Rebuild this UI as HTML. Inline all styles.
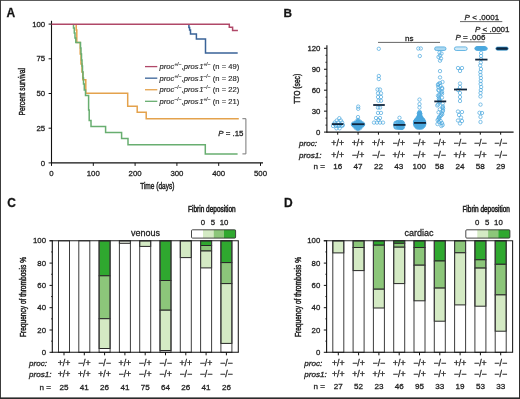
<!DOCTYPE html>
<html><head><meta charset="utf-8"><style>
html,body{margin:0;padding:0;background:#fff;width:520px;height:399px;overflow:hidden;}
svg{display:block;filter:blur(0.35px);font-family:"Liberation Sans",sans-serif;}
text{stroke:#222;stroke-width:0.28px;}
</style></head><body><svg width="520" height="399" viewBox="0 0 520 399" font-family="Liberation Sans, sans-serif"><rect x="0" y="0" width="520" height="1" fill="#5c5c5c"/>
<rect x="0" y="0" width="1" height="399" fill="#3c3c3c"/>
<rect x="519" y="0" width="1" height="399" fill="#2e2e2e"/>
<rect x="0" y="397.4" width="520" height="1.6" fill="#2a2a2a"/>
<text x="6.5" y="16.9" font-size="12" text-anchor="start" fill="#111" font-weight="bold" style="">A</text>
<line x1="51.5" y1="20.8" x2="51.5" y2="163.4" stroke="#111" stroke-width="1.1"/>
<line x1="51.0" y1="162.9" x2="263" y2="162.9" stroke="#111" stroke-width="1.1"/>
<line x1="48.6" y1="162.9" x2="51.5" y2="162.9" stroke="#111" stroke-width="1"/>
<text x="45.2" y="165.5" font-size="7.8" text-anchor="end" fill="#222"  style="">0</text>
<line x1="48.6" y1="128.20000000000002" x2="51.5" y2="128.20000000000002" stroke="#111" stroke-width="1"/>
<text x="45.2" y="130.8" font-size="7.8" text-anchor="end" fill="#222"  style="">25</text>
<line x1="48.6" y1="93.50000000000001" x2="51.5" y2="93.50000000000001" stroke="#111" stroke-width="1"/>
<text x="45.2" y="96.10000000000001" font-size="7.8" text-anchor="end" fill="#222"  style="">50</text>
<line x1="48.6" y1="58.80000000000001" x2="51.5" y2="58.80000000000001" stroke="#111" stroke-width="1"/>
<text x="45.2" y="61.40000000000001" font-size="7.8" text-anchor="end" fill="#222"  style="">75</text>
<line x1="48.6" y1="24.100000000000023" x2="51.5" y2="24.100000000000023" stroke="#111" stroke-width="1"/>
<text x="45.2" y="26.700000000000024" font-size="7.8" text-anchor="end" fill="#222"  style="">100</text>
<line x1="51.5" y1="162.9" x2="51.5" y2="165.9" stroke="#111" stroke-width="1"/>
<text x="51.5" y="175.8" font-size="7.8" text-anchor="middle" fill="#222"  style="">0</text>
<line x1="93.3" y1="162.9" x2="93.3" y2="165.9" stroke="#111" stroke-width="1"/>
<text x="93.3" y="175.8" font-size="7.8" text-anchor="middle" fill="#222"  style="">100</text>
<line x1="135.1" y1="162.9" x2="135.1" y2="165.9" stroke="#111" stroke-width="1"/>
<text x="135.1" y="175.8" font-size="7.8" text-anchor="middle" fill="#222"  style="">200</text>
<line x1="176.89999999999998" y1="162.9" x2="176.89999999999998" y2="165.9" stroke="#111" stroke-width="1"/>
<text x="176.89999999999998" y="175.8" font-size="7.8" text-anchor="middle" fill="#222"  style="">300</text>
<line x1="218.7" y1="162.9" x2="218.7" y2="165.9" stroke="#111" stroke-width="1"/>
<text x="218.7" y="175.8" font-size="7.8" text-anchor="middle" fill="#222"  style="">400</text>
<line x1="260.5" y1="162.9" x2="260.5" y2="165.9" stroke="#111" stroke-width="1"/>
<text x="260.5" y="175.8" font-size="7.8" text-anchor="middle" fill="#222"  style="">500</text>
<text x="157.3" y="188.5" font-size="9.2" text-anchor="middle" fill="#1a1a1a" textLength="34.3" lengthAdjust="spacingAndGlyphs"  style="stroke-width:0.45px">Time (days)</text>
<text x="0" y="0" font-size="9.4" text-anchor="middle" fill="#222" textLength="47.5" lengthAdjust="spacingAndGlyphs" style="stroke-width:0.45px" transform="translate(25.2,91.8) rotate(-90)">Percent survival</text>
<path d="M188.9,24.3 V27.5 H189.6 V30 H190.5 V34 H196.4 V39.1 H205.5 V53.1 H237.7" fill="none" stroke="#3a6398" stroke-width="1.5" stroke-linejoin="miter"/>
<path d="M76.2,24.3 V30 H76.8 V42.6 H80.2 V54 H81 V64 H82 V72 H82.8 V79.8 H85.8 V93.2 H127.7 V106.3 H137.2 V112.2 H146.2 V118.7 H238.8" fill="none" stroke="#e4a24c" stroke-width="1.5" stroke-linejoin="miter"/>
<path d="M73.5,24.3 V28 H74.3 V33 H75 V38 H75.8 V42.6 H80.5 V48 H81 V54 H81.5 V60 H82 V66 H82.5 V72 H83 V78 H83.5 V84 H84.3 V90 H85.5 V95.6 H88.6 V110 H89.2 V120.6 H91 V126.4 H105.6 V132.6 H121.6 V138.4 H128 V144.8 H205.3 V153.9 H237.6" fill="none" stroke="#68ae70" stroke-width="1.5" stroke-linejoin="miter"/>
<path d="M51.5,24.3 H229.3 V27.2 H232.6 V30.4 H237.9" fill="none" stroke="#b04868" stroke-width="1.5" stroke-linejoin="miter"/>
<line x1="145" y1="66.6" x2="157.3" y2="66.6" stroke="#b04868" stroke-width="1.3"/>
<text x="159.6" y="69.3" font-size="7.6" fill="#2a2a2a" style="stroke-width:0.15px"><tspan font-style="italic">proc</tspan><tspan font-size="5.0" dy="-3.3">+/−</tspan><tspan dy="3.3">,</tspan><tspan font-style="italic">pros</tspan><tspan font-style="italic" dx="0.7">1</tspan><tspan font-size="5.0" dy="-3.3">+/−</tspan><tspan dy="3.3"> (n = 49)</tspan></text>
<line x1="145" y1="78.16999999999999" x2="157.3" y2="78.16999999999999" stroke="#3a6398" stroke-width="1.3"/>
<text x="159.6" y="80.86999999999999" font-size="7.6" fill="#2a2a2a" style="stroke-width:0.15px"><tspan font-style="italic">proc</tspan><tspan font-size="5.0" dy="-3.3">+/−</tspan><tspan dy="3.3">,</tspan><tspan font-style="italic">pros</tspan><tspan font-style="italic" dx="0.7">1</tspan><tspan font-size="5.0" dy="-3.3">−/−</tspan><tspan dy="3.3"> (n = 28)</tspan></text>
<line x1="145" y1="89.74" x2="157.3" y2="89.74" stroke="#e4a24c" stroke-width="1.3"/>
<text x="159.6" y="92.44" font-size="7.6" fill="#2a2a2a" style="stroke-width:0.15px"><tspan font-style="italic">proc</tspan><tspan font-size="5.0" dy="-3.3">−/−</tspan><tspan dy="3.3">,</tspan><tspan font-style="italic">pros</tspan><tspan font-style="italic" dx="0.7">1</tspan><tspan font-size="5.0" dy="-3.3">−/−</tspan><tspan dy="3.3"> (n = 22)</tspan></text>
<line x1="145" y1="101.31" x2="157.3" y2="101.31" stroke="#68ae70" stroke-width="1.3"/>
<text x="159.6" y="104.01" font-size="7.6" fill="#2a2a2a" style="stroke-width:0.15px"><tspan font-style="italic">proc</tspan><tspan font-size="5.0" dy="-3.3">−/−</tspan><tspan dy="3.3">,</tspan><tspan font-style="italic">pros</tspan><tspan font-style="italic" dx="0.7">1</tspan><tspan font-size="5.0" dy="-3.3">+/−</tspan><tspan dy="3.3"> (n = 21)</tspan></text>
<path d="M242.4,118.7 H245.9 V153.9 H242.4" fill="none" stroke="#777" stroke-width="1"/>
<text x="218.2" y="136.2" font-size="7.9" fill="#222"><tspan font-style="italic">P</tspan> = .15</text>
<text x="283.4" y="17" font-size="11.8" text-anchor="start" fill="#111" font-weight="bold" style="">B</text>
<line x1="326.9" y1="45.3" x2="326.9" y2="132.6" stroke="#111" stroke-width="1.1"/>
<line x1="326.4" y1="132.1" x2="513.6" y2="132.1" stroke="#111" stroke-width="1.1"/>
<line x1="324" y1="132.1" x2="326.9" y2="132.1" stroke="#111" stroke-width="1"/>
<text x="320.4" y="134.7" font-size="7.8" text-anchor="end" fill="#222"  style="">0</text>
<line x1="324" y1="111.151" x2="326.9" y2="111.151" stroke="#111" stroke-width="1"/>
<text x="320.4" y="113.75099999999999" font-size="7.8" text-anchor="end" fill="#222"  style="">30</text>
<line x1="324" y1="90.202" x2="326.9" y2="90.202" stroke="#111" stroke-width="1"/>
<text x="320.4" y="92.80199999999999" font-size="7.8" text-anchor="end" fill="#222"  style="">60</text>
<line x1="324" y1="69.25299999999999" x2="326.9" y2="69.25299999999999" stroke="#111" stroke-width="1"/>
<text x="320.4" y="71.85299999999998" font-size="7.8" text-anchor="end" fill="#222"  style="">90</text>
<line x1="324" y1="48.30399999999999" x2="326.9" y2="48.30399999999999" stroke="#111" stroke-width="1"/>
<text x="320.4" y="50.90399999999999" font-size="7.8" text-anchor="end" fill="#222"  style="">120</text>
<line x1="325.4" y1="125.11699999999999" x2="326.9" y2="125.11699999999999" stroke="#111" stroke-width="0.8"/>
<line x1="325.4" y1="118.13399999999999" x2="326.9" y2="118.13399999999999" stroke="#111" stroke-width="0.8"/>
<line x1="325.4" y1="104.16799999999999" x2="326.9" y2="104.16799999999999" stroke="#111" stroke-width="0.8"/>
<line x1="325.4" y1="97.185" x2="326.9" y2="97.185" stroke="#111" stroke-width="0.8"/>
<line x1="325.4" y1="83.219" x2="326.9" y2="83.219" stroke="#111" stroke-width="0.8"/>
<line x1="325.4" y1="76.23599999999999" x2="326.9" y2="76.23599999999999" stroke="#111" stroke-width="0.8"/>
<line x1="325.4" y1="62.269999999999996" x2="326.9" y2="62.269999999999996" stroke="#111" stroke-width="0.8"/>
<line x1="325.4" y1="55.28699999999999" x2="326.9" y2="55.28699999999999" stroke="#111" stroke-width="0.8"/>
<text x="0" y="0" font-size="8.5" text-anchor="middle" fill="#222" textLength="30" lengthAdjust="spacingAndGlyphs" style="stroke-width:0.45px" transform="translate(300.3,88.8) rotate(-90)">TTO (sec)</text>
<line x1="337.7" y1="132.1" x2="337.7" y2="134.7" stroke="#111" stroke-width="1"/>
<line x1="358.07" y1="132.1" x2="358.07" y2="134.7" stroke="#111" stroke-width="1"/>
<line x1="378.44" y1="132.1" x2="378.44" y2="134.7" stroke="#111" stroke-width="1"/>
<line x1="398.81" y1="132.1" x2="398.81" y2="134.7" stroke="#111" stroke-width="1"/>
<line x1="419.18" y1="132.1" x2="419.18" y2="134.7" stroke="#111" stroke-width="1"/>
<line x1="439.55" y1="132.1" x2="439.55" y2="134.7" stroke="#111" stroke-width="1"/>
<line x1="459.91999999999996" y1="132.1" x2="459.91999999999996" y2="134.7" stroke="#111" stroke-width="1"/>
<line x1="480.28999999999996" y1="132.1" x2="480.28999999999996" y2="134.7" stroke="#111" stroke-width="1"/>
<line x1="500.65999999999997" y1="132.1" x2="500.65999999999997" y2="134.7" stroke="#111" stroke-width="1"/>
<text x="299" y="146" font-size="8.1" fill="#1a1a1a" font-style="italic">proc:</text>
<text x="299" y="157.9" font-size="8.1" fill="#1a1a1a" font-style="italic">pros1:</text>
<text x="313.5" y="169.3" font-size="8.1" fill="#1a1a1a">n =</text>
<text x="337.7" y="146" font-size="8.8" text-anchor="middle" fill="#1a1a1a"  style="">+/+</text>
<text x="337.7" y="157.9" font-size="8.8" text-anchor="middle" fill="#1a1a1a"  style="">+/+</text>
<text x="337.7" y="169.3" font-size="8.1" text-anchor="middle" fill="#1a1a1a"  style="">16</text>
<text x="358.07" y="146" font-size="8.8" text-anchor="middle" fill="#1a1a1a"  style="">+/+</text>
<text x="358.07" y="157.9" font-size="8.8" text-anchor="middle" fill="#1a1a1a"  style="">−/+</text>
<text x="358.07" y="169.3" font-size="8.1" text-anchor="middle" fill="#1a1a1a"  style="">47</text>
<text x="378.44" y="146" font-size="8.8" text-anchor="middle" fill="#1a1a1a"  style="">+/+</text>
<text x="378.44" y="157.9" font-size="8.8" text-anchor="middle" fill="#1a1a1a"  style="">−/−</text>
<text x="378.44" y="169.3" font-size="8.1" text-anchor="middle" fill="#1a1a1a"  style="">22</text>
<text x="398.81" y="146" font-size="8.8" text-anchor="middle" fill="#1a1a1a"  style="">−/+</text>
<text x="398.81" y="157.9" font-size="8.8" text-anchor="middle" fill="#1a1a1a"  style="">+/+</text>
<text x="398.81" y="169.3" font-size="8.1" text-anchor="middle" fill="#1a1a1a"  style="">43</text>
<text x="419.18" y="146" font-size="8.8" text-anchor="middle" fill="#1a1a1a"  style="">−/+</text>
<text x="419.18" y="157.9" font-size="8.8" text-anchor="middle" fill="#1a1a1a"  style="">−/+</text>
<text x="419.18" y="169.3" font-size="8.1" text-anchor="middle" fill="#1a1a1a"  style="">100</text>
<text x="439.55" y="146" font-size="8.8" text-anchor="middle" fill="#1a1a1a"  style="">−/+</text>
<text x="439.55" y="157.9" font-size="8.8" text-anchor="middle" fill="#1a1a1a"  style="">−/−</text>
<text x="439.55" y="169.3" font-size="8.1" text-anchor="middle" fill="#1a1a1a"  style="">58</text>
<text x="459.91999999999996" y="146" font-size="8.8" text-anchor="middle" fill="#1a1a1a"  style="">−/−</text>
<text x="459.91999999999996" y="157.9" font-size="8.8" text-anchor="middle" fill="#1a1a1a"  style="">+/+</text>
<text x="459.91999999999996" y="169.3" font-size="8.1" text-anchor="middle" fill="#1a1a1a"  style="">24</text>
<text x="480.28999999999996" y="146" font-size="8.8" text-anchor="middle" fill="#1a1a1a"  style="">−/−</text>
<text x="480.28999999999996" y="157.9" font-size="8.8" text-anchor="middle" fill="#1a1a1a"  style="">−/+</text>
<text x="480.28999999999996" y="169.3" font-size="8.1" text-anchor="middle" fill="#1a1a1a"  style="">58</text>
<text x="500.65999999999997" y="146" font-size="8.8" text-anchor="middle" fill="#1a1a1a"  style="">−/−</text>
<text x="500.65999999999997" y="157.9" font-size="8.8" text-anchor="middle" fill="#1a1a1a"  style="">−/−</text>
<text x="500.65999999999997" y="169.3" font-size="8.1" text-anchor="middle" fill="#1a1a1a"  style="">29</text>
<rect x="393.6" y="120.8" width="11.2" height="8.6" rx="3" fill="#86c6ea" stroke="#45a6dc" stroke-width="0.6"/>
<g fill="#62b4e2" stroke="#45a6dc" stroke-width="0.6"><path d="M358,118.8 L359.6,120.6 L361.4,122 L364.6,123.4 L364.6,125.2 L360.6,128.6 L358,130.2 L355.4,128.6 L351.4,125.2 L351.4,123.4 L354.6,122 L356.4,120.6 Z"/><path d="M418,111.4 Q419.7,110.2 421.4,111.4 L421.8,116.6 Q425.8,119.4 426,123 Q426,128.6 419.7,129.2 Q413.4,128.6 413.4,123 Q413.6,119.4 417.6,116.6 Z"/><rect x="474.8" y="46.9" width="12.6" height="3.4" rx="1.7"/></g>
<rect x="495.8" y="46.9" width="12.4" height="3.4" rx="1.7" fill="#154a72" stroke="#3d9fd6" stroke-width="0.6"/>
<rect x="454.4" y="46.9" width="12.8" height="3.6" rx="1.8" fill="#cfe9f7" stroke="#4aa8de" stroke-width="0.8"/>
<rect x="434.6" y="46.9" width="11.4" height="3.6" rx="1.8" fill="#a9d7f0" stroke="#4aa8de" stroke-width="0.8"/>
<g fill="none" stroke="#4aa8de" stroke-width="0.7"><circle cx="339.31" cy="118.20" r="1.7"/><circle cx="336.77" cy="120.50" r="1.7"/><circle cx="340.87" cy="120.50" r="1.7"/><circle cx="334.72" cy="122.50" r="1.7"/><circle cx="338.00" cy="122.50" r="1.7"/><circle cx="342.10" cy="122.50" r="1.7"/><circle cx="333.08" cy="126.00" r="1.7"/><circle cx="335.95" cy="126.00" r="1.7"/><circle cx="338.82" cy="126.00" r="1.7"/><circle cx="342.10" cy="126.00" r="1.7"/><circle cx="336.36" cy="128.30" r="1.7"/><circle cx="339.64" cy="128.30" r="1.7"/><circle cx="334.31" cy="124.00" r="1.7"/><circle cx="340.46" cy="124.50" r="1.7"/><circle cx="337.59" cy="125.00" r="1.7"/><circle cx="342.92" cy="125.00" r="1.7"/><circle cx="358.20" cy="106.60" r="1.7"/><circle cx="358.20" cy="108.80" r="1.7"/><circle cx="358.00" cy="117.10" r="1.7"/><circle cx="358.00" cy="119.80" r="1.7"/><circle cx="356.20" cy="121.60" r="1.7"/><circle cx="358.00" cy="121.60" r="1.7"/><circle cx="359.80" cy="121.60" r="1.7"/><circle cx="353.40" cy="123.40" r="1.7"/><circle cx="354.71" cy="123.40" r="1.7"/><circle cx="356.03" cy="123.40" r="1.7"/><circle cx="357.34" cy="123.40" r="1.7"/><circle cx="358.66" cy="123.40" r="1.7"/><circle cx="359.97" cy="123.40" r="1.7"/><circle cx="361.29" cy="123.40" r="1.7"/><circle cx="362.60" cy="123.40" r="1.7"/><circle cx="353.00" cy="124.80" r="1.7"/><circle cx="354.25" cy="124.80" r="1.7"/><circle cx="355.50" cy="124.80" r="1.7"/><circle cx="356.75" cy="124.80" r="1.7"/><circle cx="358.00" cy="124.80" r="1.7"/><circle cx="359.25" cy="124.80" r="1.7"/><circle cx="360.50" cy="124.80" r="1.7"/><circle cx="361.75" cy="124.80" r="1.7"/><circle cx="363.00" cy="124.80" r="1.7"/><circle cx="354.40" cy="126.40" r="1.7"/><circle cx="355.84" cy="126.40" r="1.7"/><circle cx="357.28" cy="126.40" r="1.7"/><circle cx="358.72" cy="126.40" r="1.7"/><circle cx="360.16" cy="126.40" r="1.7"/><circle cx="361.60" cy="126.40" r="1.7"/><circle cx="356.00" cy="128.20" r="1.7"/><circle cx="357.33" cy="128.20" r="1.7"/><circle cx="358.67" cy="128.20" r="1.7"/><circle cx="360.00" cy="128.20" r="1.7"/><circle cx="358.00" cy="129.20" r="1.7"/><circle cx="358.31" cy="123.43" r="1.7"/><circle cx="358.73" cy="124.22" r="1.7"/><circle cx="354.96" cy="125.75" r="1.7"/><circle cx="360.36" cy="122.08" r="1.7"/><circle cx="356.14" cy="123.56" r="1.7"/><circle cx="357.79" cy="127.97" r="1.7"/><circle cx="357.83" cy="127.02" r="1.7"/><circle cx="355.55" cy="125.83" r="1.7"/><circle cx="360.58" cy="125.81" r="1.7"/><circle cx="359.69" cy="125.14" r="1.7"/><circle cx="378.80" cy="48.80" r="1.7"/><circle cx="378.80" cy="76.00" r="1.7"/><circle cx="378.80" cy="79.00" r="1.7"/><circle cx="377.50" cy="89.50" r="1.7"/><circle cx="380.00" cy="89.50" r="1.7"/><circle cx="378.00" cy="93.30" r="1.7"/><circle cx="381.00" cy="93.30" r="1.7"/><circle cx="378.00" cy="97.00" r="1.7"/><circle cx="381.00" cy="97.00" r="1.7"/><circle cx="378.50" cy="100.80" r="1.7"/><circle cx="381.00" cy="100.80" r="1.7"/><circle cx="378.00" cy="107.60" r="1.7"/><circle cx="380.00" cy="107.60" r="1.7"/><circle cx="378.00" cy="112.90" r="1.7"/><circle cx="381.00" cy="112.90" r="1.7"/><circle cx="376.00" cy="118.00" r="1.7"/><circle cx="380.00" cy="118.00" r="1.7"/><circle cx="374.00" cy="122.60" r="1.7"/><circle cx="377.00" cy="122.60" r="1.7"/><circle cx="380.00" cy="122.60" r="1.7"/><circle cx="383.00" cy="122.60" r="1.7"/><circle cx="378.50" cy="120.00" r="1.7"/><circle cx="399.50" cy="117.80" r="1.7"/><circle cx="400.50" cy="122.37" r="1.7"/><circle cx="401.16" cy="125.43" r="1.7"/><circle cx="397.69" cy="122.18" r="1.7"/><circle cx="401.98" cy="124.74" r="1.7"/><circle cx="400.86" cy="127.10" r="1.7"/><circle cx="400.83" cy="127.34" r="1.7"/><circle cx="398.40" cy="126.65" r="1.7"/><circle cx="398.78" cy="127.43" r="1.7"/><circle cx="402.08" cy="122.57" r="1.7"/><circle cx="396.43" cy="123.26" r="1.7"/><circle cx="402.74" cy="124.53" r="1.7"/><circle cx="400.16" cy="123.75" r="1.7"/><circle cx="399.26" cy="124.24" r="1.7"/><circle cx="398.07" cy="125.39" r="1.7"/><circle cx="399.84" cy="127.24" r="1.7"/><circle cx="400.58" cy="127.39" r="1.7"/><circle cx="401.91" cy="127.75" r="1.7"/><circle cx="400.50" cy="122.95" r="1.7"/><circle cx="401.94" cy="127.59" r="1.7"/><circle cx="402.28" cy="125.30" r="1.7"/><circle cx="400.83" cy="123.22" r="1.7"/><circle cx="401.72" cy="125.33" r="1.7"/><circle cx="397.57" cy="122.37" r="1.7"/><circle cx="401.89" cy="127.74" r="1.7"/><circle cx="396.07" cy="126.64" r="1.7"/><circle cx="398.52" cy="122.87" r="1.7"/><circle cx="397.63" cy="126.46" r="1.7"/><circle cx="402.03" cy="122.26" r="1.7"/><circle cx="400.07" cy="122.26" r="1.7"/><circle cx="400.86" cy="123.92" r="1.7"/><circle cx="418.30" cy="48.50" r="1.7"/><circle cx="420.80" cy="48.50" r="1.7"/><circle cx="419.80" cy="56.00" r="1.7"/><circle cx="419.50" cy="99.60" r="1.7"/><circle cx="419.50" cy="104.10" r="1.7"/><circle cx="419.50" cy="107.50" r="1.7"/><circle cx="419.60" cy="111.80" r="1.7"/><circle cx="419.00" cy="113.80" r="1.7"/><circle cx="420.20" cy="113.80" r="1.7"/><circle cx="418.80" cy="115.80" r="1.7"/><circle cx="420.40" cy="115.80" r="1.7"/><circle cx="417.60" cy="117.80" r="1.7"/><circle cx="418.60" cy="117.80" r="1.7"/><circle cx="419.60" cy="117.80" r="1.7"/><circle cx="420.60" cy="117.80" r="1.7"/><circle cx="421.60" cy="117.80" r="1.7"/><circle cx="416.10" cy="119.80" r="1.7"/><circle cx="417.10" cy="119.80" r="1.7"/><circle cx="418.10" cy="119.80" r="1.7"/><circle cx="419.10" cy="119.80" r="1.7"/><circle cx="420.10" cy="119.80" r="1.7"/><circle cx="421.10" cy="119.80" r="1.7"/><circle cx="422.10" cy="119.80" r="1.7"/><circle cx="423.10" cy="119.80" r="1.7"/><circle cx="415.10" cy="121.80" r="1.7"/><circle cx="416.10" cy="121.80" r="1.7"/><circle cx="417.10" cy="121.80" r="1.7"/><circle cx="418.10" cy="121.80" r="1.7"/><circle cx="419.10" cy="121.80" r="1.7"/><circle cx="420.10" cy="121.80" r="1.7"/><circle cx="421.10" cy="121.80" r="1.7"/><circle cx="422.10" cy="121.80" r="1.7"/><circle cx="423.10" cy="121.80" r="1.7"/><circle cx="424.10" cy="121.80" r="1.7"/><circle cx="415.00" cy="123.80" r="1.7"/><circle cx="416.02" cy="123.80" r="1.7"/><circle cx="417.04" cy="123.80" r="1.7"/><circle cx="418.07" cy="123.80" r="1.7"/><circle cx="419.09" cy="123.80" r="1.7"/><circle cx="420.11" cy="123.80" r="1.7"/><circle cx="421.13" cy="123.80" r="1.7"/><circle cx="422.16" cy="123.80" r="1.7"/><circle cx="423.18" cy="123.80" r="1.7"/><circle cx="424.20" cy="123.80" r="1.7"/><circle cx="415.60" cy="125.80" r="1.7"/><circle cx="416.60" cy="125.80" r="1.7"/><circle cx="417.60" cy="125.80" r="1.7"/><circle cx="418.60" cy="125.80" r="1.7"/><circle cx="419.60" cy="125.80" r="1.7"/><circle cx="420.60" cy="125.80" r="1.7"/><circle cx="421.60" cy="125.80" r="1.7"/><circle cx="422.60" cy="125.80" r="1.7"/><circle cx="423.60" cy="125.80" r="1.7"/><circle cx="417.00" cy="127.40" r="1.7"/><circle cx="418.04" cy="127.40" r="1.7"/><circle cx="419.08" cy="127.40" r="1.7"/><circle cx="420.12" cy="127.40" r="1.7"/><circle cx="421.16" cy="127.40" r="1.7"/><circle cx="422.20" cy="127.40" r="1.7"/><circle cx="422.58" cy="125.33" r="1.7"/><circle cx="423.07" cy="120.08" r="1.7"/><circle cx="418.39" cy="117.34" r="1.7"/><circle cx="415.41" cy="121.40" r="1.7"/><circle cx="419.45" cy="115.76" r="1.7"/><circle cx="416.51" cy="121.55" r="1.7"/><circle cx="420.19" cy="113.59" r="1.7"/><circle cx="420.95" cy="117.39" r="1.7"/><circle cx="418.87" cy="125.55" r="1.7"/><circle cx="419.72" cy="119.45" r="1.7"/><circle cx="420.46" cy="122.01" r="1.7"/><circle cx="420.57" cy="120.83" r="1.7"/><circle cx="419.64" cy="126.17" r="1.7"/><circle cx="420.79" cy="119.04" r="1.7"/><circle cx="419.28" cy="116.33" r="1.7"/><circle cx="419.70" cy="126.69" r="1.7"/><circle cx="415.76" cy="120.68" r="1.7"/><circle cx="420.01" cy="118.81" r="1.7"/><circle cx="419.79" cy="113.28" r="1.7"/><circle cx="415.64" cy="121.85" r="1.7"/><circle cx="419.30" cy="121.78" r="1.7"/><circle cx="418.27" cy="122.51" r="1.7"/><circle cx="421.74" cy="122.90" r="1.7"/><circle cx="418.90" cy="113.31" r="1.7"/><circle cx="423.77" cy="122.46" r="1.7"/><circle cx="419.53" cy="116.52" r="1.7"/><circle cx="418.02" cy="121.30" r="1.7"/><circle cx="418.85" cy="118.10" r="1.7"/><circle cx="419.99" cy="118.17" r="1.7"/><circle cx="419.27" cy="117.21" r="1.7"/><circle cx="415.80" cy="123.81" r="1.7"/><circle cx="421.55" cy="120.97" r="1.7"/><circle cx="418.81" cy="117.34" r="1.7"/><circle cx="417.64" cy="124.25" r="1.7"/><circle cx="419.50" cy="115.62" r="1.7"/><circle cx="416.02" cy="122.77" r="1.7"/><circle cx="419.08" cy="117.51" r="1.7"/><circle cx="419.17" cy="124.67" r="1.7"/><circle cx="417.41" cy="124.98" r="1.7"/><circle cx="420.11" cy="117.71" r="1.7"/><circle cx="439.50" cy="52.60" r="1.7"/><circle cx="441.50" cy="53.50" r="1.7"/><circle cx="440.00" cy="55.50" r="1.7"/><circle cx="438.50" cy="57.00" r="1.7"/><circle cx="441.00" cy="58.50" r="1.7"/><circle cx="440.00" cy="60.70" r="1.7"/><circle cx="440.00" cy="71.10" r="1.7"/><circle cx="440.00" cy="77.40" r="1.7"/><circle cx="442.51" cy="82.00" r="1.7"/><circle cx="439.91" cy="82.98" r="1.7"/><circle cx="438.55" cy="83.96" r="1.7"/><circle cx="437.93" cy="84.93" r="1.7"/><circle cx="440.38" cy="85.91" r="1.7"/><circle cx="438.34" cy="86.89" r="1.7"/><circle cx="442.04" cy="87.87" r="1.7"/><circle cx="442.23" cy="88.84" r="1.7"/><circle cx="438.30" cy="89.82" r="1.7"/><circle cx="438.87" cy="90.80" r="1.7"/><circle cx="442.04" cy="91.78" r="1.7"/><circle cx="441.05" cy="92.76" r="1.7"/><circle cx="442.04" cy="93.73" r="1.7"/><circle cx="439.27" cy="94.71" r="1.7"/><circle cx="437.98" cy="95.69" r="1.7"/><circle cx="438.95" cy="96.67" r="1.7"/><circle cx="441.96" cy="97.64" r="1.7"/><circle cx="438.83" cy="98.62" r="1.7"/><circle cx="439.28" cy="99.60" r="1.7"/><circle cx="439.70" cy="100.58" r="1.7"/><circle cx="439.72" cy="101.56" r="1.7"/><circle cx="439.66" cy="102.53" r="1.7"/><circle cx="442.72" cy="103.51" r="1.7"/><circle cx="438.14" cy="104.49" r="1.7"/><circle cx="437.23" cy="105.47" r="1.7"/><circle cx="442.86" cy="106.44" r="1.7"/><circle cx="442.48" cy="107.42" r="1.7"/><circle cx="443.12" cy="108.40" r="1.7"/><circle cx="439.81" cy="109.38" r="1.7"/><circle cx="442.90" cy="110.36" r="1.7"/><circle cx="442.76" cy="111.33" r="1.7"/><circle cx="438.53" cy="112.31" r="1.7"/><circle cx="441.67" cy="113.29" r="1.7"/><circle cx="442.22" cy="114.27" r="1.7"/><circle cx="441.18" cy="115.24" r="1.7"/><circle cx="440.31" cy="116.22" r="1.7"/><circle cx="438.93" cy="117.20" r="1.7"/><circle cx="439.25" cy="118.18" r="1.7"/><circle cx="438.56" cy="119.16" r="1.7"/><circle cx="437.61" cy="120.13" r="1.7"/><circle cx="440.73" cy="121.11" r="1.7"/><circle cx="438.92" cy="122.09" r="1.7"/><circle cx="442.06" cy="123.07" r="1.7"/><circle cx="437.47" cy="124.04" r="1.7"/><circle cx="442.62" cy="125.02" r="1.7"/><circle cx="441.36" cy="126.00" r="1.7"/><circle cx="458.00" cy="68.00" r="1.7"/><circle cx="462.00" cy="68.00" r="1.7"/><circle cx="460.00" cy="71.00" r="1.7"/><circle cx="460.00" cy="83.50" r="1.7"/><circle cx="460.00" cy="87.00" r="1.7"/><circle cx="458.00" cy="90.00" r="1.7"/><circle cx="460.00" cy="93.00" r="1.7"/><circle cx="460.00" cy="97.00" r="1.7"/><circle cx="460.00" cy="101.00" r="1.7"/><circle cx="458.00" cy="111.50" r="1.7"/><circle cx="462.00" cy="112.00" r="1.7"/><circle cx="459.00" cy="115.00" r="1.7"/><circle cx="461.00" cy="117.50" r="1.7"/><circle cx="458.00" cy="120.50" r="1.7"/><circle cx="462.00" cy="121.00" r="1.7"/><circle cx="460.00" cy="123.50" r="1.7"/><circle cx="476.80" cy="48.30" r="1.7"/><circle cx="477.22" cy="48.30" r="1.7"/><circle cx="477.64" cy="48.30" r="1.7"/><circle cx="478.06" cy="48.30" r="1.7"/><circle cx="478.48" cy="48.30" r="1.7"/><circle cx="478.91" cy="48.30" r="1.7"/><circle cx="479.33" cy="48.30" r="1.7"/><circle cx="479.75" cy="48.30" r="1.7"/><circle cx="480.17" cy="48.30" r="1.7"/><circle cx="480.59" cy="48.30" r="1.7"/><circle cx="481.01" cy="48.30" r="1.7"/><circle cx="481.43" cy="48.30" r="1.7"/><circle cx="481.85" cy="48.30" r="1.7"/><circle cx="482.27" cy="48.30" r="1.7"/><circle cx="482.69" cy="48.30" r="1.7"/><circle cx="483.12" cy="48.30" r="1.7"/><circle cx="483.54" cy="48.30" r="1.7"/><circle cx="483.96" cy="48.30" r="1.7"/><circle cx="484.38" cy="48.30" r="1.7"/><circle cx="484.80" cy="48.30" r="1.7"/><circle cx="481.12" cy="53.00" r="1.7"/><circle cx="481.10" cy="56.00" r="1.7"/><circle cx="481.10" cy="59.00" r="1.7"/><circle cx="480.78" cy="62.50" r="1.7"/><circle cx="480.21" cy="65.50" r="1.7"/><circle cx="480.95" cy="69.00" r="1.7"/><circle cx="480.37" cy="72.00" r="1.7"/><circle cx="480.50" cy="75.00" r="1.7"/><circle cx="480.86" cy="78.00" r="1.7"/><circle cx="480.72" cy="81.00" r="1.7"/><circle cx="480.61" cy="84.00" r="1.7"/><circle cx="481.14" cy="87.00" r="1.7"/><circle cx="480.81" cy="90.00" r="1.7"/><circle cx="480.54" cy="93.00" r="1.7"/><circle cx="480.45" cy="96.50" r="1.7"/><circle cx="480.50" cy="104.60" r="1.7"/><circle cx="479.50" cy="112.80" r="1.7"/><circle cx="482.00" cy="113.00" r="1.7"/><circle cx="480.50" cy="116.90" r="1.7"/><circle cx="480.50" cy="122.00" r="1.7"/></g>
<line x1="331.8" y1="124.1" x2="343.4" y2="124.1" stroke="#10263e" stroke-width="1.8"/>
<line x1="352" y1="124.2" x2="364.4" y2="124.2" stroke="#10263e" stroke-width="1.8"/>
<line x1="373.2" y1="105" x2="384.8" y2="105" stroke="#10263e" stroke-width="1.8"/>
<line x1="393.5" y1="124.9" x2="405.5" y2="124.9" stroke="#10263e" stroke-width="1.8"/>
<line x1="414" y1="122.9" x2="426" y2="122.9" stroke="#10263e" stroke-width="1.8"/>
<line x1="434.3" y1="101.4" x2="446.2" y2="101.4" stroke="#10263e" stroke-width="1.8"/>
<line x1="454" y1="89.5" x2="467" y2="89.5" stroke="#10263e" stroke-width="1.8"/>
<line x1="475.2" y1="59.6" x2="487.5" y2="59.6" stroke="#10263e" stroke-width="1.8"/>
<line x1="496.5" y1="48.6" x2="507.5" y2="48.6" stroke="#10263e" stroke-width="1.8"/>
<line x1="378" y1="42.4" x2="440" y2="42.4" stroke="#555" stroke-width="0.9"/>
<text x="409.2" y="40.7" font-size="8.0" text-anchor="middle" fill="#222"  style="">ns</text>
<line x1="460" y1="21.6" x2="502.3" y2="21.6" stroke="#555" stroke-width="0.9"/>
<text x="464.6" y="19.6" font-size="8.0" fill="#222"><tspan font-style="italic">P</tspan> &lt; .0001</text>
<line x1="481.5" y1="33.5" x2="501.5" y2="33.5" stroke="#555" stroke-width="0.9"/>
<text x="475" y="31.9" font-size="8.0" fill="#222"><tspan font-style="italic">P</tspan> &lt; .0001</text>
<line x1="460.8" y1="41.9" x2="484.6" y2="41.9" stroke="#555" stroke-width="0.9"/>
<text x="455.4" y="40.4" font-size="8.0" fill="#222"><tspan font-style="italic">P</tspan> = .006</text>
<text x="7.2" y="206.6" font-size="12" text-anchor="start" fill="#111" font-weight="bold" style="">C</text>
<rect x="58.5" y="240.8" width="11" height="111.5" fill="none" stroke="#3c3c3c" stroke-width="1"/>
<line x1="64.0" y1="352.3" x2="64.0" y2="355.3" stroke="#111" stroke-width="1"/>
<rect x="78.8" y="240.8" width="11" height="111.5" fill="none" stroke="#3c3c3c" stroke-width="1"/>
<line x1="84.3" y1="352.3" x2="84.3" y2="355.3" stroke="#111" stroke-width="1"/>
<rect x="99.1" y="240.8" width="11" height="35.0" fill="#2fa82f" stroke="#262626" stroke-width="1"/>
<rect x="99.1" y="275.8" width="11" height="42.89999999999998" fill="#8cc67a" stroke="#262626" stroke-width="1"/>
<rect x="99.1" y="318.7" width="11" height="29.80000000000001" fill="#d4eac4" stroke="#262626" stroke-width="1"/>
<rect x="99.1" y="240.8" width="11" height="111.5" fill="none" stroke="#3c3c3c" stroke-width="1"/>
<line x1="104.6" y1="352.3" x2="104.6" y2="355.3" stroke="#111" stroke-width="1"/>
<rect x="119.4" y="240.8" width="11" height="2.5" fill="#eef6e8" stroke="#262626" stroke-width="1"/>
<rect x="119.4" y="240.8" width="11" height="111.5" fill="none" stroke="#3c3c3c" stroke-width="1"/>
<line x1="124.9" y1="352.3" x2="124.9" y2="355.3" stroke="#111" stroke-width="1"/>
<rect x="139.7" y="240.8" width="11" height="5.599999999999994" fill="#d4eac4" stroke="#262626" stroke-width="1"/>
<rect x="139.7" y="240.8" width="11" height="111.5" fill="none" stroke="#3c3c3c" stroke-width="1"/>
<line x1="145.2" y1="352.3" x2="145.2" y2="355.3" stroke="#111" stroke-width="1"/>
<rect x="160.0" y="240.8" width="11" height="39.69999999999999" fill="#2fa82f" stroke="#262626" stroke-width="1"/>
<rect x="160.0" y="280.5" width="11" height="29.69999999999999" fill="#8cc67a" stroke="#262626" stroke-width="1"/>
<rect x="160.0" y="310.2" width="11" height="40.30000000000001" fill="#d4eac4" stroke="#262626" stroke-width="1"/>
<rect x="160.0" y="240.8" width="11" height="111.5" fill="none" stroke="#3c3c3c" stroke-width="1"/>
<line x1="165.5" y1="352.3" x2="165.5" y2="355.3" stroke="#111" stroke-width="1"/>
<rect x="180.3" y="240.8" width="11" height="16.80000000000001" fill="#d4eac4" stroke="#262626" stroke-width="1"/>
<rect x="180.3" y="240.8" width="11" height="111.5" fill="none" stroke="#3c3c3c" stroke-width="1"/>
<line x1="185.8" y1="352.3" x2="185.8" y2="355.3" stroke="#111" stroke-width="1"/>
<rect x="200.6" y="240.8" width="11" height="4.699999999999989" fill="#2fa82f" stroke="#262626" stroke-width="1"/>
<rect x="200.6" y="245.5" width="11" height="5.5" fill="#8cc67a" stroke="#262626" stroke-width="1"/>
<rect x="200.6" y="251" width="11" height="16.899999999999977" fill="#d4eac4" stroke="#262626" stroke-width="1"/>
<rect x="200.6" y="240.8" width="11" height="111.5" fill="none" stroke="#3c3c3c" stroke-width="1"/>
<line x1="206.1" y1="352.3" x2="206.1" y2="355.3" stroke="#111" stroke-width="1"/>
<rect x="220.9" y="240.8" width="11" height="21.80000000000001" fill="#2fa82f" stroke="#262626" stroke-width="1"/>
<rect x="220.9" y="262.6" width="11" height="21.0" fill="#8cc67a" stroke="#262626" stroke-width="1"/>
<rect x="220.9" y="283.6" width="11" height="59.799999999999955" fill="#d4eac4" stroke="#262626" stroke-width="1"/>
<rect x="220.9" y="240.8" width="11" height="111.5" fill="none" stroke="#3c3c3c" stroke-width="1"/>
<line x1="226.4" y1="352.3" x2="226.4" y2="355.3" stroke="#111" stroke-width="1"/>
<path d="M49.5,240.8 H238.3 V352.3" fill="none" stroke="#222" stroke-width="1.1"/>
<line x1="52.3" y1="240.3" x2="52.3" y2="352.8" stroke="#111" stroke-width="1.1"/>
<line x1="51.8" y1="352.3" x2="238.8" y2="352.3" stroke="#111" stroke-width="1.1"/>
<line x1="49.5" y1="352.3" x2="52.3" y2="352.3" stroke="#111" stroke-width="1"/>
<text x="46" y="354.8" font-size="7.8" text-anchor="end" fill="#222"  style="">0</text>
<line x1="49.5" y1="330.0" x2="52.3" y2="330.0" stroke="#111" stroke-width="1"/>
<text x="46" y="332.5" font-size="7.8" text-anchor="end" fill="#222"  style="">20</text>
<line x1="49.5" y1="307.7" x2="52.3" y2="307.7" stroke="#111" stroke-width="1"/>
<text x="46" y="310.2" font-size="7.8" text-anchor="end" fill="#222"  style="">40</text>
<line x1="49.5" y1="285.4" x2="52.3" y2="285.4" stroke="#111" stroke-width="1"/>
<text x="46" y="287.9" font-size="7.8" text-anchor="end" fill="#222"  style="">60</text>
<line x1="49.5" y1="263.1" x2="52.3" y2="263.1" stroke="#111" stroke-width="1"/>
<text x="46" y="265.6" font-size="7.8" text-anchor="end" fill="#222"  style="">80</text>
<line x1="49.5" y1="240.8" x2="52.3" y2="240.8" stroke="#111" stroke-width="1"/>
<text x="46" y="243.3" font-size="7.8" text-anchor="end" fill="#222"  style="">100</text>
<line x1="51" y1="341.15000000000003" x2="52.3" y2="341.15000000000003" stroke="#111" stroke-width="0.8"/>
<line x1="51" y1="318.85" x2="52.3" y2="318.85" stroke="#111" stroke-width="0.8"/>
<line x1="51" y1="296.55" x2="52.3" y2="296.55" stroke="#111" stroke-width="0.8"/>
<line x1="51" y1="274.25" x2="52.3" y2="274.25" stroke="#111" stroke-width="0.8"/>
<line x1="51" y1="251.95000000000002" x2="52.3" y2="251.95000000000002" stroke="#111" stroke-width="0.8"/>
<text x="0" y="0" font-size="8.5" text-anchor="middle" fill="#222" textLength="80" lengthAdjust="spacingAndGlyphs" style="stroke-width:0.45px" transform="translate(26.4,297) rotate(-90)">Frequency of thrombosis %</text>
<text x="131" y="235.5" font-size="9" text-anchor="start" fill="#222"  style="">venous</text>
<text x="188.1" y="211.9" font-size="8.4" text-anchor="start" fill="#111" textLength="47.5" lengthAdjust="spacingAndGlyphs"  style="stroke-width:0.5px">Fibrin deposition</text>
<text x="202.8" y="224.7" font-size="7.8" text-anchor="middle" fill="#222"  style="">0</text>
<text x="212.8" y="224.7" font-size="7.8" text-anchor="middle" fill="#222"  style="">5</text>
<text x="224.1" y="224.7" font-size="7.8" text-anchor="middle" fill="#222"  style="">10</text>
<rect x="203" y="229.8" width="11" height="8.3" fill="#d4eac4"/>
<rect x="213.8" y="229.8" width="10.4" height="8.3" fill="#8cc67a"/>
<rect x="224" y="229.8" width="11.6" height="8.3" fill="#2fa82f"/>
<rect x="191.5" y="229.8" width="44.1" height="8.3" rx="1" fill="none" stroke="#333" stroke-width="0.9"/>
<text x="29" y="365.5" font-size="8.1" fill="#1a1a1a" font-style="italic">proc:</text>
<text x="29" y="377.4" font-size="8.1" fill="#1a1a1a" font-style="italic">pros1:</text>
<text x="39.5" y="390.3" font-size="8.1" fill="#1a1a1a">n =</text>
<text x="64.0" y="365.5" font-size="8.8" text-anchor="middle" fill="#1a1a1a"  style="">+/+</text>
<text x="64.0" y="377.4" font-size="8.8" text-anchor="middle" fill="#1a1a1a"  style="">+/+</text>
<text x="64.0" y="390.3" font-size="8.1" text-anchor="middle" fill="#1a1a1a"  style="">25</text>
<text x="84.3" y="365.5" font-size="8.8" text-anchor="middle" fill="#1a1a1a"  style="">−/+</text>
<text x="84.3" y="377.4" font-size="8.8" text-anchor="middle" fill="#1a1a1a"  style="">+/+</text>
<text x="84.3" y="390.3" font-size="8.1" text-anchor="middle" fill="#1a1a1a"  style="">41</text>
<text x="104.6" y="365.5" font-size="8.8" text-anchor="middle" fill="#1a1a1a"  style="">−/−</text>
<text x="104.6" y="377.4" font-size="8.8" text-anchor="middle" fill="#1a1a1a"  style="">+/+</text>
<text x="104.6" y="390.3" font-size="8.1" text-anchor="middle" fill="#1a1a1a"  style="">26</text>
<text x="124.9" y="365.5" font-size="8.8" text-anchor="middle" fill="#1a1a1a"  style="">+/+</text>
<text x="124.9" y="377.4" font-size="8.8" text-anchor="middle" fill="#1a1a1a"  style="">−/+</text>
<text x="124.9" y="390.3" font-size="8.1" text-anchor="middle" fill="#1a1a1a"  style="">41</text>
<text x="145.2" y="365.5" font-size="8.8" text-anchor="middle" fill="#1a1a1a"  style="">−/+</text>
<text x="145.2" y="377.4" font-size="8.8" text-anchor="middle" fill="#1a1a1a"  style="">−/+</text>
<text x="145.2" y="390.3" font-size="8.1" text-anchor="middle" fill="#1a1a1a"  style="">75</text>
<text x="165.5" y="365.5" font-size="8.8" text-anchor="middle" fill="#1a1a1a"  style="">−/−</text>
<text x="165.5" y="377.4" font-size="8.8" text-anchor="middle" fill="#1a1a1a"  style="">−/+</text>
<text x="165.5" y="390.3" font-size="8.1" text-anchor="middle" fill="#1a1a1a"  style="">64</text>
<text x="185.8" y="365.5" font-size="8.8" text-anchor="middle" fill="#1a1a1a"  style="">+/+</text>
<text x="185.8" y="377.4" font-size="8.8" text-anchor="middle" fill="#1a1a1a"  style="">−/−</text>
<text x="185.8" y="390.3" font-size="8.1" text-anchor="middle" fill="#1a1a1a"  style="">26</text>
<text x="206.1" y="365.5" font-size="8.8" text-anchor="middle" fill="#1a1a1a"  style="">−/+</text>
<text x="206.1" y="377.4" font-size="8.8" text-anchor="middle" fill="#1a1a1a"  style="">−/−</text>
<text x="206.1" y="390.3" font-size="8.1" text-anchor="middle" fill="#1a1a1a"  style="">41</text>
<text x="226.4" y="365.5" font-size="8.8" text-anchor="middle" fill="#1a1a1a"  style="">−/−</text>
<text x="226.4" y="377.4" font-size="8.8" text-anchor="middle" fill="#1a1a1a"  style="">−/−</text>
<text x="226.4" y="390.3" font-size="8.1" text-anchor="middle" fill="#1a1a1a"  style="">26</text>
<text x="284" y="206.6" font-size="12" text-anchor="start" fill="#111" font-weight="bold" style="">D</text>
<rect x="332.8" y="240.8" width="11" height="12.099999999999994" fill="#d4eac4" stroke="#262626" stroke-width="1"/>
<rect x="332.8" y="240.8" width="11" height="111.5" fill="none" stroke="#3c3c3c" stroke-width="1"/>
<line x1="338.3" y1="352.3" x2="338.3" y2="355.3" stroke="#111" stroke-width="1"/>
<rect x="353.1" y="240.8" width="11" height="6.699999999999989" fill="#8cc67a" stroke="#262626" stroke-width="1"/>
<rect x="353.1" y="247.5" width="11" height="23.100000000000023" fill="#d4eac4" stroke="#262626" stroke-width="1"/>
<rect x="353.1" y="240.8" width="11" height="111.5" fill="none" stroke="#3c3c3c" stroke-width="1"/>
<line x1="358.6" y1="352.3" x2="358.6" y2="355.3" stroke="#111" stroke-width="1"/>
<rect x="373.40000000000003" y="240.8" width="11" height="4.399999999999977" fill="#2fa82f" stroke="#262626" stroke-width="1"/>
<rect x="373.40000000000003" y="245.2" width="11" height="44.0" fill="#8cc67a" stroke="#262626" stroke-width="1"/>
<rect x="373.40000000000003" y="289.2" width="11" height="18.80000000000001" fill="#d4eac4" stroke="#262626" stroke-width="1"/>
<rect x="373.40000000000003" y="240.8" width="11" height="111.5" fill="none" stroke="#3c3c3c" stroke-width="1"/>
<line x1="378.90000000000003" y1="352.3" x2="378.90000000000003" y2="355.3" stroke="#111" stroke-width="1"/>
<rect x="393.70000000000005" y="240.8" width="11" height="2.5" fill="#2fa82f" stroke="#262626" stroke-width="1"/>
<rect x="393.70000000000005" y="243.3" width="11" height="3.8999999999999773" fill="#8cc67a" stroke="#262626" stroke-width="1"/>
<rect x="393.70000000000005" y="247.2" width="11" height="36.400000000000034" fill="#d4eac4" stroke="#262626" stroke-width="1"/>
<rect x="393.70000000000005" y="240.8" width="11" height="111.5" fill="none" stroke="#3c3c3c" stroke-width="1"/>
<line x1="399.20000000000005" y1="352.3" x2="399.20000000000005" y2="355.3" stroke="#111" stroke-width="1"/>
<rect x="414.0" y="240.8" width="11" height="6.699999999999989" fill="#2fa82f" stroke="#262626" stroke-width="1"/>
<rect x="414.0" y="247.5" width="11" height="17.69999999999999" fill="#8cc67a" stroke="#262626" stroke-width="1"/>
<rect x="414.0" y="265.2" width="11" height="35.60000000000002" fill="#d4eac4" stroke="#262626" stroke-width="1"/>
<rect x="414.0" y="240.8" width="11" height="111.5" fill="none" stroke="#3c3c3c" stroke-width="1"/>
<line x1="419.5" y1="352.3" x2="419.5" y2="355.3" stroke="#111" stroke-width="1"/>
<rect x="434.3" y="240.8" width="11" height="20.19999999999999" fill="#2fa82f" stroke="#262626" stroke-width="1"/>
<rect x="434.3" y="261" width="11" height="27.100000000000023" fill="#8cc67a" stroke="#262626" stroke-width="1"/>
<rect x="434.3" y="288.1" width="11" height="33.099999999999966" fill="#d4eac4" stroke="#262626" stroke-width="1"/>
<rect x="434.3" y="240.8" width="11" height="111.5" fill="none" stroke="#3c3c3c" stroke-width="1"/>
<line x1="439.8" y1="352.3" x2="439.8" y2="355.3" stroke="#111" stroke-width="1"/>
<rect x="454.6" y="240.8" width="11" height="12.0" fill="#8cc67a" stroke="#262626" stroke-width="1"/>
<rect x="454.6" y="252.8" width="11" height="52.099999999999966" fill="#d4eac4" stroke="#262626" stroke-width="1"/>
<rect x="454.6" y="240.8" width="11" height="111.5" fill="none" stroke="#3c3c3c" stroke-width="1"/>
<line x1="460.1" y1="352.3" x2="460.1" y2="355.3" stroke="#111" stroke-width="1"/>
<rect x="474.9" y="240.8" width="11" height="19.0" fill="#2fa82f" stroke="#262626" stroke-width="1"/>
<rect x="474.9" y="259.8" width="11" height="8.300000000000011" fill="#8cc67a" stroke="#262626" stroke-width="1"/>
<rect x="474.9" y="268.1" width="11" height="38.099999999999966" fill="#d4eac4" stroke="#262626" stroke-width="1"/>
<rect x="474.9" y="240.8" width="11" height="111.5" fill="none" stroke="#3c3c3c" stroke-width="1"/>
<line x1="480.4" y1="352.3" x2="480.4" y2="355.3" stroke="#111" stroke-width="1"/>
<rect x="495.20000000000005" y="240.8" width="11" height="23.5" fill="#2fa82f" stroke="#262626" stroke-width="1"/>
<rect x="495.20000000000005" y="264.3" width="11" height="30.599999999999966" fill="#8cc67a" stroke="#262626" stroke-width="1"/>
<rect x="495.20000000000005" y="294.9" width="11" height="36.30000000000001" fill="#d4eac4" stroke="#262626" stroke-width="1"/>
<rect x="495.20000000000005" y="240.8" width="11" height="111.5" fill="none" stroke="#3c3c3c" stroke-width="1"/>
<line x1="500.70000000000005" y1="352.3" x2="500.70000000000005" y2="355.3" stroke="#111" stroke-width="1"/>
<path d="M323.8,240.8 H512.6 V352.3" fill="none" stroke="#222" stroke-width="1.1"/>
<line x1="326.6" y1="240.3" x2="326.6" y2="352.8" stroke="#111" stroke-width="1.1"/>
<line x1="326.1" y1="352.3" x2="513.1" y2="352.3" stroke="#111" stroke-width="1.1"/>
<line x1="323.8" y1="352.3" x2="326.6" y2="352.3" stroke="#111" stroke-width="1"/>
<text x="320.3" y="354.8" font-size="7.8" text-anchor="end" fill="#222"  style="">0</text>
<line x1="323.8" y1="330.0" x2="326.6" y2="330.0" stroke="#111" stroke-width="1"/>
<text x="320.3" y="332.5" font-size="7.8" text-anchor="end" fill="#222"  style="">20</text>
<line x1="323.8" y1="307.7" x2="326.6" y2="307.7" stroke="#111" stroke-width="1"/>
<text x="320.3" y="310.2" font-size="7.8" text-anchor="end" fill="#222"  style="">40</text>
<line x1="323.8" y1="285.4" x2="326.6" y2="285.4" stroke="#111" stroke-width="1"/>
<text x="320.3" y="287.9" font-size="7.8" text-anchor="end" fill="#222"  style="">60</text>
<line x1="323.8" y1="263.1" x2="326.6" y2="263.1" stroke="#111" stroke-width="1"/>
<text x="320.3" y="265.6" font-size="7.8" text-anchor="end" fill="#222"  style="">80</text>
<line x1="323.8" y1="240.8" x2="326.6" y2="240.8" stroke="#111" stroke-width="1"/>
<text x="320.3" y="243.3" font-size="7.8" text-anchor="end" fill="#222"  style="">100</text>
<line x1="325.3" y1="341.15000000000003" x2="326.6" y2="341.15000000000003" stroke="#111" stroke-width="0.8"/>
<line x1="325.3" y1="318.85" x2="326.6" y2="318.85" stroke="#111" stroke-width="0.8"/>
<line x1="325.3" y1="296.55" x2="326.6" y2="296.55" stroke="#111" stroke-width="0.8"/>
<line x1="325.3" y1="274.25" x2="326.6" y2="274.25" stroke="#111" stroke-width="0.8"/>
<line x1="325.3" y1="251.95000000000002" x2="326.6" y2="251.95000000000002" stroke="#111" stroke-width="0.8"/>
<text x="0" y="0" font-size="8.5" text-anchor="middle" fill="#222" textLength="80" lengthAdjust="spacingAndGlyphs" style="stroke-width:0.45px" transform="translate(300.7,297) rotate(-90)">Frequency of thrombosis %</text>
<text x="404.6" y="235.5" font-size="9" text-anchor="start" fill="#222"  style="">cardiac</text>
<text x="462.4" y="211.9" font-size="8.4" text-anchor="start" fill="#111" textLength="47.5" lengthAdjust="spacingAndGlyphs"  style="stroke-width:0.5px">Fibrin deposition</text>
<text x="477.1" y="224.7" font-size="7.8" text-anchor="middle" fill="#222"  style="">0</text>
<text x="487.1" y="224.7" font-size="7.8" text-anchor="middle" fill="#222"  style="">5</text>
<text x="498.4" y="224.7" font-size="7.8" text-anchor="middle" fill="#222"  style="">10</text>
<rect x="477.3" y="229.8" width="11" height="8.3" fill="#d4eac4"/>
<rect x="488.1" y="229.8" width="10.4" height="8.3" fill="#8cc67a"/>
<rect x="498.3" y="229.8" width="11.6" height="8.3" fill="#2fa82f"/>
<rect x="465.8" y="229.8" width="44.1" height="8.3" rx="1" fill="none" stroke="#333" stroke-width="0.9"/>
<text x="304.2" y="365.5" font-size="8.1" fill="#1a1a1a" font-style="italic">proc:</text>
<text x="304.2" y="376.8" font-size="8.1" fill="#1a1a1a" font-style="italic">pros1:</text>
<text x="313.5" y="388.8" font-size="8.1" fill="#1a1a1a">n =</text>
<text x="338.3" y="365.5" font-size="8.8" text-anchor="middle" fill="#1a1a1a"  style="">+/+</text>
<text x="338.3" y="376.8" font-size="8.8" text-anchor="middle" fill="#1a1a1a"  style="">+/+</text>
<text x="338.3" y="388.8" font-size="8.1" text-anchor="middle" fill="#1a1a1a"  style="">27</text>
<text x="358.6" y="365.5" font-size="8.8" text-anchor="middle" fill="#1a1a1a"  style="">−/+</text>
<text x="358.6" y="376.8" font-size="8.8" text-anchor="middle" fill="#1a1a1a"  style="">+/+</text>
<text x="358.6" y="388.8" font-size="8.1" text-anchor="middle" fill="#1a1a1a"  style="">52</text>
<text x="378.90000000000003" y="365.5" font-size="8.8" text-anchor="middle" fill="#1a1a1a"  style="">−/−</text>
<text x="378.90000000000003" y="376.8" font-size="8.8" text-anchor="middle" fill="#1a1a1a"  style="">+/+</text>
<text x="378.90000000000003" y="388.8" font-size="8.1" text-anchor="middle" fill="#1a1a1a"  style="">23</text>
<text x="399.20000000000005" y="365.5" font-size="8.8" text-anchor="middle" fill="#1a1a1a"  style="">+/+</text>
<text x="399.20000000000005" y="376.8" font-size="8.8" text-anchor="middle" fill="#1a1a1a"  style="">−/+</text>
<text x="399.20000000000005" y="388.8" font-size="8.1" text-anchor="middle" fill="#1a1a1a"  style="">46</text>
<text x="419.5" y="365.5" font-size="8.8" text-anchor="middle" fill="#1a1a1a"  style="">−/+</text>
<text x="419.5" y="376.8" font-size="8.8" text-anchor="middle" fill="#1a1a1a"  style="">−/+</text>
<text x="419.5" y="388.8" font-size="8.1" text-anchor="middle" fill="#1a1a1a"  style="">95</text>
<text x="439.8" y="365.5" font-size="8.8" text-anchor="middle" fill="#1a1a1a"  style="">−/−</text>
<text x="439.8" y="376.8" font-size="8.8" text-anchor="middle" fill="#1a1a1a"  style="">−/+</text>
<text x="439.8" y="388.8" font-size="8.1" text-anchor="middle" fill="#1a1a1a"  style="">33</text>
<text x="460.1" y="365.5" font-size="8.8" text-anchor="middle" fill="#1a1a1a"  style="">+/+</text>
<text x="460.1" y="376.8" font-size="8.8" text-anchor="middle" fill="#1a1a1a"  style="">−/−</text>
<text x="460.1" y="388.8" font-size="8.1" text-anchor="middle" fill="#1a1a1a"  style="">19</text>
<text x="480.4" y="365.5" font-size="8.8" text-anchor="middle" fill="#1a1a1a"  style="">−/+</text>
<text x="480.4" y="376.8" font-size="8.8" text-anchor="middle" fill="#1a1a1a"  style="">−/−</text>
<text x="480.4" y="388.8" font-size="8.1" text-anchor="middle" fill="#1a1a1a"  style="">53</text>
<text x="500.70000000000005" y="365.5" font-size="8.8" text-anchor="middle" fill="#1a1a1a"  style="">−/−</text>
<text x="500.70000000000005" y="376.8" font-size="8.8" text-anchor="middle" fill="#1a1a1a"  style="">−/−</text>
<text x="500.70000000000005" y="388.8" font-size="8.1" text-anchor="middle" fill="#1a1a1a"  style="">33</text></svg></body></html>
